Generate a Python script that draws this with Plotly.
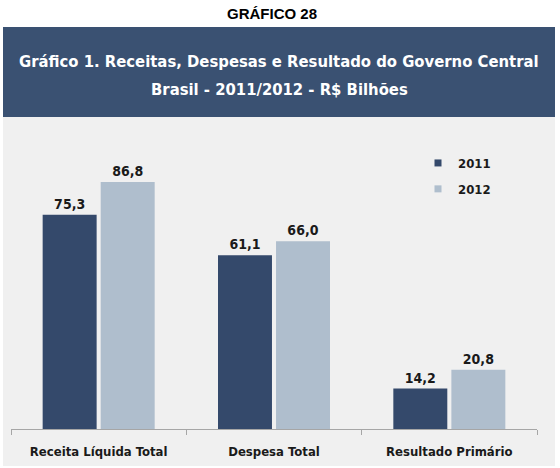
import plotly.graph_objects as go

categories = ["Receita Líquida Total", "Despesa Total", "Resultado Primário"]
series_names = ["2011", "2012"]
values_2011 = [75.3, 61.1, 14.2]
values_2012 = [86.8, 66.0, 20.8]
labels_2011 = ["75,3", "61,1", "14,2"]
labels_2012 = ["86,8", "66,0", "20,8"]

W, H = 560, 468
FONT = "DejaVu Sans Condensed, Liberation Sans Narrow, Roboto, sans-serif"
C2011 = "#34496b"
C2012 = "#afbecd"
BOX = "#3a5172"
PANEL = "#f0f0f0"
TXT = "#1a1a1a"

def px(x):
    return x / W

def py(y):
    return 1 - y / H

fig = go.Figure()
for name, vals, labs, col in [("2011", values_2011, labels_2011, C2011),
                              ("2012", values_2012, labels_2012, C2012)]:
    fig.add_trace(go.Bar(
        x=categories, y=vals, name=name, marker=dict(color=col, line=dict(width=0)),
        text=labs, textposition="outside", cliponaxis=False,
        textfont=dict(family=FONT, size=14, color=TXT, weight="bold"),
        showlegend=False,
    ))
    fig.add_trace(go.Scatter(
        x=[None], y=[None], mode="markers", name=name, legendgroup=name,
        marker=dict(symbol="square", size=7, color=col), showlegend=True,
    ))

plot_top = 140
plot_bottom = 429
scale = 247 / 86.8
ymax = (plot_bottom - plot_top) / scale

fig.update_layout(
    width=W, height=H,
    margin=dict(l=0, r=0, t=0, b=0),
    paper_bgcolor="white", plot_bgcolor=PANEL,
    barmode="group", bargap=0.338, bargroupgap=0.07,
    xaxis=dict(domain=[px(11), px(537)], showline=True, linecolor="#a6a6a6", linewidth=1,
               ticks="outside", tickson="boundaries", ticklen=5, tickcolor="#a6a6a6",
               ticklabelstandoff=10,
               tickfont=dict(family=FONT, size=13, color=TXT, weight="bold"),
               showgrid=False, zeroline=False, fixedrange=True),
    yaxis=dict(domain=[py(plot_bottom), py(plot_top)], range=[0, ymax], visible=False,
               showgrid=False, zeroline=False, fixedrange=True),
    legend=dict(x=px(418), y=py(148), xanchor="left", yanchor="top",
                bgcolor="rgba(0,0,0,0)", traceorder="grouped", tracegroupgap=6,
                font=dict(family=FONT, size=13, color=TXT, weight="bold"),
                itemwidth=30),
    shapes=[
        dict(type="rect", xref="paper", yref="paper", x0=px(3), x1=px(555), y0=py(466), y1=py(117),
             fillcolor=PANEL, line=dict(width=0), layer="below"),
        dict(type="rect", xref="paper", yref="paper", x0=px(3), x1=px(555), y0=py(117), y1=py(27),
             fillcolor=BOX, line=dict(width=0), layer="below"),
    ],
    annotations=[
        dict(text="<b>GRÁFICO 28</b>", x=px(272), y=py(13), xref="paper", yref="paper",
             xanchor="center", yanchor="middle",
             showarrow=False, font=dict(family="Liberation Sans, Arial", size=15, color="#000000")),
        dict(text="<b>Gráfico 1. Receitas, Despesas e Resultado do Governo Central</b>",
             x=px(279), y=py(62), xref="paper", yref="paper", xanchor="center", yanchor="middle",
             showarrow=False, font=dict(family=FONT, size=16.5, color="white")),
        dict(text="<b>Brasil - 2011/2012 - R$ Bilhões</b>",
             x=px(279), y=py(90), xref="paper", yref="paper", xanchor="center", yanchor="middle",
             showarrow=False, font=dict(family=FONT, size=16.5, color="white")),
    ],
)

fig.write_html("out.html", config={"displayModeBar": False},
               post_script="document.body.style.margin='0px';")
